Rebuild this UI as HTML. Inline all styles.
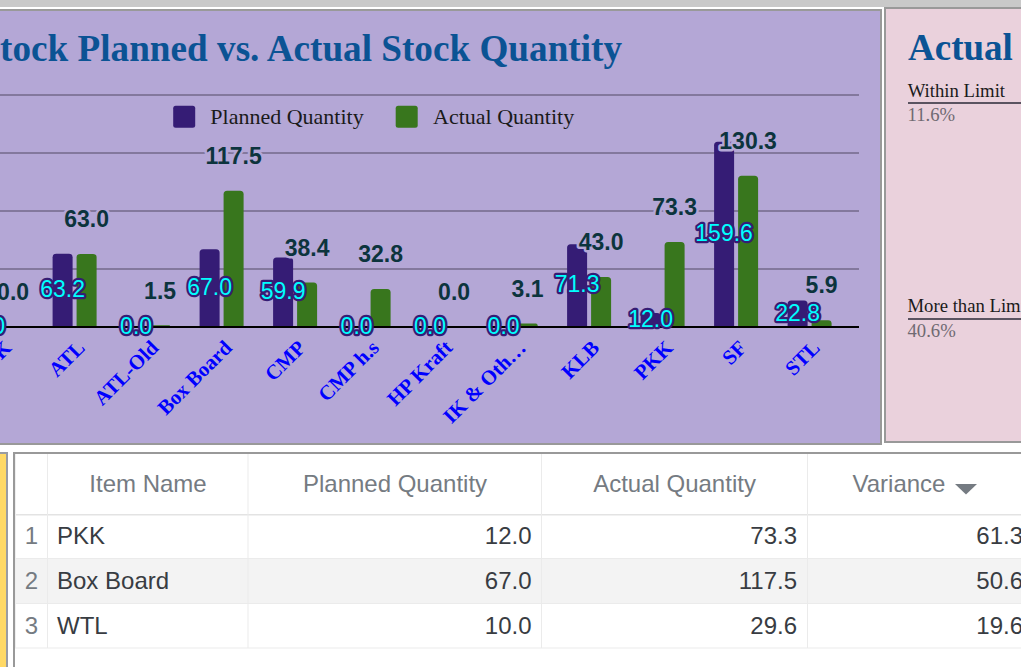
<!DOCTYPE html>
<html><head><meta charset="utf-8"><style>
html,body{margin:0;padding:0;width:1021px;height:669px;overflow:hidden;background:#fff;position:relative}
.topgrey{position:absolute;left:0;top:0;width:1021px;height:7px;background:#c9c9c9}
.chartp{position:absolute;left:-10px;top:9px;width:888px;height:432px;border:2px solid #999;background:#b4a7d6}
.pinkp{position:absolute;left:884px;top:7px;width:200px;height:432px;border:2px solid #999;background:#ead1dc}
.yel{position:absolute;left:-10px;top:452px;width:14px;height:213px;border:2px solid #9a9ca2;border-bottom:none;background:#ffd966}
.tbl{position:absolute;left:13px;top:452px;width:1100px;height:213px;border:2px solid #999;border-bottom:none;background:#fff}
svg.chart{position:absolute;left:0;top:0}
.pt{position:absolute;font-family:"Liberation Serif",serif;white-space:nowrap}
.ts{position:absolute;font-family:"Liberation Sans",sans-serif;white-space:nowrap;font-size:24px;line-height:28px}
</style></head><body>
<div class="topgrey"></div>
<div class="chartp"></div>
<div class="pinkp"></div>
<svg class="chart" width="880" height="443" viewBox="0 0 880 443">
<defs><clipPath id="cp"><rect x="0" y="11" width="880" height="432"/></clipPath></defs>
<g clip-path="url(#cp)">
<rect x="0" y="94" width="859" height="2" fill="#83789d"/>
<rect x="0" y="152" width="859" height="2" fill="#83789d"/>
<rect x="0" y="210" width="859" height="2" fill="#83789d"/>
<rect x="0" y="268" width="859" height="2" fill="#83789d"/>
<text x="-20.6" y="61.4" font-family="Liberation Serif" font-weight="bold" font-size="37.2" fill="#0b5394">Stock Planned vs. Actual Stock Quantity</text>
<rect x="173.2" y="105.8" width="22" height="22" rx="2.5" fill="#351c75"/>
<text x="210.3" y="123.8" font-family="Liberation Serif" font-size="22" fill="#1a1a1a">Planned Quantity</text>
<rect x="395.7" y="105.8" width="22" height="22" rx="2.5" fill="#38761d"/>
<text x="433" y="123.8" font-family="Liberation Serif" font-size="22" fill="#1a1a1a">Actual Quantity</text>
<path d="M52.6,327.0 V257.19 Q52.6,253.69 56.1,253.69 H69.1 Q72.6,253.69 72.6,257.19 V327.0 Z" fill="#351c75"/>
<path d="M76.6,327.0 V257.42 Q76.6,253.92 80.1,253.92 H93.1 Q96.6,253.92 96.6,257.42 V327.0 Z" fill="#38761d"/>
<path d="M150.1,327.0 V326.13 Q150.1,325.26 151.0,325.26 H169.2 Q170.1,325.26 170.1,326.13 V327.0 Z" fill="#38761d"/>
<path d="M199.6,327.0 V252.78 Q199.6,249.28 203.1,249.28 H216.1 Q219.6,249.28 219.6,252.78 V327.0 Z" fill="#351c75"/>
<path d="M223.6,327.0 V194.20 Q223.6,190.70 227.1,190.70 H240.1 Q243.6,190.70 243.6,194.20 V327.0 Z" fill="#38761d"/>
<path d="M273.1,327.0 V261.02 Q273.1,257.52 276.6,257.52 H289.6 Q293.1,257.52 293.1,261.02 V327.0 Z" fill="#351c75"/>
<path d="M297.1,327.0 V285.96 Q297.1,282.46 300.6,282.46 H313.6 Q317.1,282.46 317.1,285.96 V327.0 Z" fill="#38761d"/>
<path d="M370.6,327.0 V292.45 Q370.6,288.95 374.1,288.95 H387.1 Q390.6,288.95 390.6,292.45 V327.0 Z" fill="#38761d"/>
<path d="M517.6,327.0 V325.20 Q517.6,323.40 519.4,323.40 H535.8 Q537.6,323.40 537.6,325.20 V327.0 Z" fill="#38761d"/>
<path d="M567.1,327.0 V247.79 Q567.1,244.29 570.6,244.29 H583.6 Q587.1,244.29 587.1,247.79 V327.0 Z" fill="#351c75"/>
<path d="M591.1,327.0 V280.62 Q591.1,277.12 594.6,277.12 H607.6 Q611.1,277.12 611.1,280.62 V327.0 Z" fill="#38761d"/>
<path d="M640.6,327.0 V316.58 Q640.6,313.08 644.1,313.08 H657.1 Q660.6,313.08 660.6,316.58 V327.0 Z" fill="#351c75"/>
<path d="M664.6,327.0 V245.47 Q664.6,241.97 668.1,241.97 H681.1 Q684.6,241.97 684.6,245.47 V327.0 Z" fill="#38761d"/>
<path d="M714.1,327.0 V145.36 Q714.1,141.86 717.6,141.86 H730.6 Q734.1,141.86 734.1,145.36 V327.0 Z" fill="#351c75"/>
<path d="M738.1,327.0 V179.35 Q738.1,175.85 741.6,175.85 H754.6 Q758.1,175.85 758.1,179.35 V327.0 Z" fill="#38761d"/>
<path d="M787.6,327.0 V304.05 Q787.6,300.55 791.1,300.55 H804.1 Q807.6,300.55 807.6,304.05 V327.0 Z" fill="#351c75"/>
<path d="M811.6,327.0 V323.58 Q811.6,320.16 815.0,320.16 H828.2 Q831.6,320.16 831.6,323.58 V327.0 Z" fill="#38761d"/>
<rect x="0" y="326" width="859" height="2" fill="#000"/>
<text x="13.1" y="300.2" text-anchor="middle" font-family="Liberation Sans" font-weight="bold" font-size="23" fill="#0c343d" stroke="#b4a7d6" stroke-width="5" paint-order="stroke" stroke-linejoin="round">0.0</text>
<text x="86.6" y="227.1" text-anchor="middle" font-family="Liberation Sans" font-weight="bold" font-size="23" fill="#0c343d" stroke="#b4a7d6" stroke-width="5" paint-order="stroke" stroke-linejoin="round">63.0</text>
<text x="160.1" y="298.5" text-anchor="middle" font-family="Liberation Sans" font-weight="bold" font-size="23" fill="#0c343d" stroke="#b4a7d6" stroke-width="5" paint-order="stroke" stroke-linejoin="round">1.5</text>
<text x="233.6" y="163.9" text-anchor="middle" font-family="Liberation Sans" font-weight="bold" font-size="23" fill="#0c343d" stroke="#b4a7d6" stroke-width="5" paint-order="stroke" stroke-linejoin="round">117.5</text>
<text x="307.1" y="255.7" text-anchor="middle" font-family="Liberation Sans" font-weight="bold" font-size="23" fill="#0c343d" stroke="#b4a7d6" stroke-width="5" paint-order="stroke" stroke-linejoin="round">38.4</text>
<text x="380.6" y="262.2" text-anchor="middle" font-family="Liberation Sans" font-weight="bold" font-size="23" fill="#0c343d" stroke="#b4a7d6" stroke-width="5" paint-order="stroke" stroke-linejoin="round">32.8</text>
<text x="454.1" y="300.2" text-anchor="middle" font-family="Liberation Sans" font-weight="bold" font-size="23" fill="#0c343d" stroke="#b4a7d6" stroke-width="5" paint-order="stroke" stroke-linejoin="round">0.0</text>
<text x="527.6" y="296.6" text-anchor="middle" font-family="Liberation Sans" font-weight="bold" font-size="23" fill="#0c343d" stroke="#b4a7d6" stroke-width="5" paint-order="stroke" stroke-linejoin="round">3.1</text>
<text x="601.1" y="250.3" text-anchor="middle" font-family="Liberation Sans" font-weight="bold" font-size="23" fill="#0c343d" stroke="#b4a7d6" stroke-width="5" paint-order="stroke" stroke-linejoin="round">43.0</text>
<text x="674.6" y="215.2" text-anchor="middle" font-family="Liberation Sans" font-weight="bold" font-size="23" fill="#0c343d" stroke="#b4a7d6" stroke-width="5" paint-order="stroke" stroke-linejoin="round">73.3</text>
<text x="748.1" y="149.1" text-anchor="middle" font-family="Liberation Sans" font-weight="bold" font-size="23" fill="#0c343d" stroke="#b4a7d6" stroke-width="5" paint-order="stroke" stroke-linejoin="round">130.3</text>
<text x="821.6" y="293.4" text-anchor="middle" font-family="Liberation Sans" font-weight="bold" font-size="23" fill="#0c343d" stroke="#b4a7d6" stroke-width="5" paint-order="stroke" stroke-linejoin="round">5.9</text>
<text x="-10.9" y="333.7" text-anchor="middle" font-family="Liberation Sans" font-size="23" fill="#00ffff" stroke="#351c75" stroke-width="4.5" paint-order="stroke" stroke-linejoin="round">0.0</text>
<text x="62.6" y="297.0" text-anchor="middle" font-family="Liberation Sans" font-size="23" fill="#00ffff" stroke="#351c75" stroke-width="4.5" paint-order="stroke" stroke-linejoin="round">63.2</text>
<text x="136.1" y="333.7" text-anchor="middle" font-family="Liberation Sans" font-size="23" fill="#00ffff" stroke="#351c75" stroke-width="4.5" paint-order="stroke" stroke-linejoin="round">0.0</text>
<text x="209.6" y="294.8" text-anchor="middle" font-family="Liberation Sans" font-size="23" fill="#00ffff" stroke="#351c75" stroke-width="4.5" paint-order="stroke" stroke-linejoin="round">67.0</text>
<text x="283.1" y="299.0" text-anchor="middle" font-family="Liberation Sans" font-size="23" fill="#00ffff" stroke="#351c75" stroke-width="4.5" paint-order="stroke" stroke-linejoin="round">59.9</text>
<text x="356.6" y="333.7" text-anchor="middle" font-family="Liberation Sans" font-size="23" fill="#00ffff" stroke="#351c75" stroke-width="4.5" paint-order="stroke" stroke-linejoin="round">0.0</text>
<text x="430.1" y="333.7" text-anchor="middle" font-family="Liberation Sans" font-size="23" fill="#00ffff" stroke="#351c75" stroke-width="4.5" paint-order="stroke" stroke-linejoin="round">0.0</text>
<text x="503.6" y="333.7" text-anchor="middle" font-family="Liberation Sans" font-size="23" fill="#00ffff" stroke="#351c75" stroke-width="4.5" paint-order="stroke" stroke-linejoin="round">0.0</text>
<text x="577.1" y="292.3" text-anchor="middle" font-family="Liberation Sans" font-size="23" fill="#00ffff" stroke="#351c75" stroke-width="4.5" paint-order="stroke" stroke-linejoin="round">71.3</text>
<text x="650.6" y="326.7" text-anchor="middle" font-family="Liberation Sans" font-size="23" fill="#00ffff" stroke="#351c75" stroke-width="4.5" paint-order="stroke" stroke-linejoin="round">12.0</text>
<text x="724.1" y="241.1" text-anchor="middle" font-family="Liberation Sans" font-size="23" fill="#00ffff" stroke="#351c75" stroke-width="4.5" paint-order="stroke" stroke-linejoin="round">159.6</text>
<text x="797.6" y="320.5" text-anchor="middle" font-family="Liberation Sans" font-size="23" fill="#00ffff" stroke="#351c75" stroke-width="4.5" paint-order="stroke" stroke-linejoin="round">22.8</text>
<text transform="translate(12.6,349) rotate(-45)" text-anchor="end" font-family="Liberation Serif" font-weight="bold" font-size="20.7" fill="#0000ff">K</text>
<text transform="translate(86.1,349) rotate(-45)" text-anchor="end" font-family="Liberation Serif" font-weight="bold" font-size="20.7" fill="#0000ff">ATL</text>
<text transform="translate(159.6,349) rotate(-45)" text-anchor="end" font-family="Liberation Serif" font-weight="bold" font-size="20.7" fill="#0000ff">ATL-Old</text>
<text transform="translate(233.1,349) rotate(-45)" text-anchor="end" font-family="Liberation Serif" font-weight="bold" font-size="20.7" fill="#0000ff">Box Board</text>
<text transform="translate(306.6,349) rotate(-45)" text-anchor="end" font-family="Liberation Serif" font-weight="bold" font-size="20.7" fill="#0000ff">CMP</text>
<text transform="translate(380.1,349) rotate(-45)" text-anchor="end" font-family="Liberation Serif" font-weight="bold" font-size="20.7" fill="#0000ff">CMP h.s</text>
<text transform="translate(453.6,349) rotate(-45)" text-anchor="end" font-family="Liberation Serif" font-weight="bold" font-size="20.7" fill="#0000ff">HP Kraft</text>
<text transform="translate(527.1,349) rotate(-45)" text-anchor="end" font-family="Liberation Serif" font-weight="bold" font-size="20.7" fill="#0000ff">IK &amp; Oth…</text>
<text transform="translate(600.6,349) rotate(-45)" text-anchor="end" font-family="Liberation Serif" font-weight="bold" font-size="20.7" fill="#0000ff">KLB</text>
<text transform="translate(674.1,349) rotate(-45)" text-anchor="end" font-family="Liberation Serif" font-weight="bold" font-size="20.7" fill="#0000ff">PKK</text>
<text transform="translate(747.6,349) rotate(-45)" text-anchor="end" font-family="Liberation Serif" font-weight="bold" font-size="20.7" fill="#0000ff">SF</text>
<text transform="translate(821.1,349) rotate(-45)" text-anchor="end" font-family="Liberation Serif" font-weight="bold" font-size="20.7" fill="#0000ff">STL</text>
</g>
</svg>
<svg style="position:absolute;left:0;top:0" width="1021" height="443">
<text x="908" y="59.6" font-family="Liberation Serif" font-weight="bold" font-size="37" fill="#0b5394">Actual</text>
<text x="907.7" y="96.9" font-family="Liberation Serif" font-size="18.7" fill="#1a1a1a">Within Limit</text>
<rect x="908" y="102" width="120" height="2" fill="#5a5360"/>
<text x="907.5" y="120.6" font-family="Liberation Serif" font-size="18.7" fill="#6f6a72">11.6%</text>
<text x="907.5" y="312.3" font-family="Liberation Serif" font-size="18.7" fill="#1a1a1a">More than Limit</text>
<rect x="908" y="318" width="120" height="2" fill="#5a5360"/>
<text x="907.5" y="336.5" font-family="Liberation Serif" font-size="18.7" fill="#6f6a72">40.6%</text>
</svg>
<div class="yel"></div>
<div class="tbl"></div>
<svg style="position:absolute;left:0;top:0" width="1021" height="669">
<!-- table grid -->
<rect x="15" y="603" width="1010" height="1" fill="#fff"/>
<rect x="15" y="559" width="1010" height="44.5" fill="#f3f3f3"/>
<rect x="15" y="514" width="1010" height="1.5" fill="#e3e3e3"/>
<rect x="15" y="558" width="1010" height="1" fill="#ebebeb"/>
<rect x="15" y="603" width="1010" height="1" fill="#ebebeb"/>
<rect x="15" y="647.5" width="1010" height="1" fill="#ebebeb"/>
<rect x="15" y="454" width="1" height="194" fill="#efefef"/>
<rect x="47" y="454" width="1" height="194" fill="#ebebeb"/>
<rect x="247.5" y="454" width="1" height="194" fill="#ebebeb"/>
<rect x="541" y="454" width="1" height="194" fill="#ebebeb"/>
<rect x="807" y="454" width="1" height="194" fill="#ebebeb"/>
<g font-family="Liberation Sans" font-size="24" fill="#757b82">
<text x="148" y="492" text-anchor="middle">Item Name</text>
<text x="395" y="492" text-anchor="middle">Planned Quantity</text>
<text x="674.5" y="492" text-anchor="middle">Actual Quantity</text>
<text x="899" y="492" text-anchor="middle">Variance</text>
</g>
<path d="M955,484 L977,484 L966,494.5 Z" fill="#757b82"/>
<g font-family="Liberation Sans" font-size="24" fill="#757b82">
<text x="31.5" y="544.3" text-anchor="middle">1</text>
<text x="31.5" y="589" text-anchor="middle">2</text>
<text x="31.5" y="633.5" text-anchor="middle">3</text>
</g>
<g font-family="Liberation Sans" font-size="24" fill="#383c42">
<text x="57" y="544.3">PKK</text>
<text x="57" y="589">Box Board</text>
<text x="57" y="633.5">WTL</text>
<g text-anchor="end">
<text x="531.5" y="544.3">12.0</text>
<text x="531.5" y="589">67.0</text>
<text x="531.5" y="633.5">10.0</text>
<text x="797" y="544.3">73.3</text>
<text x="797" y="589">117.5</text>
<text x="797" y="633.5">29.6</text>
<text x="1023" y="544.3">61.3</text>
<text x="1023" y="589">50.6</text>
<text x="1023" y="633.5">19.6</text>
</g></g>
</svg>
</body></html>
